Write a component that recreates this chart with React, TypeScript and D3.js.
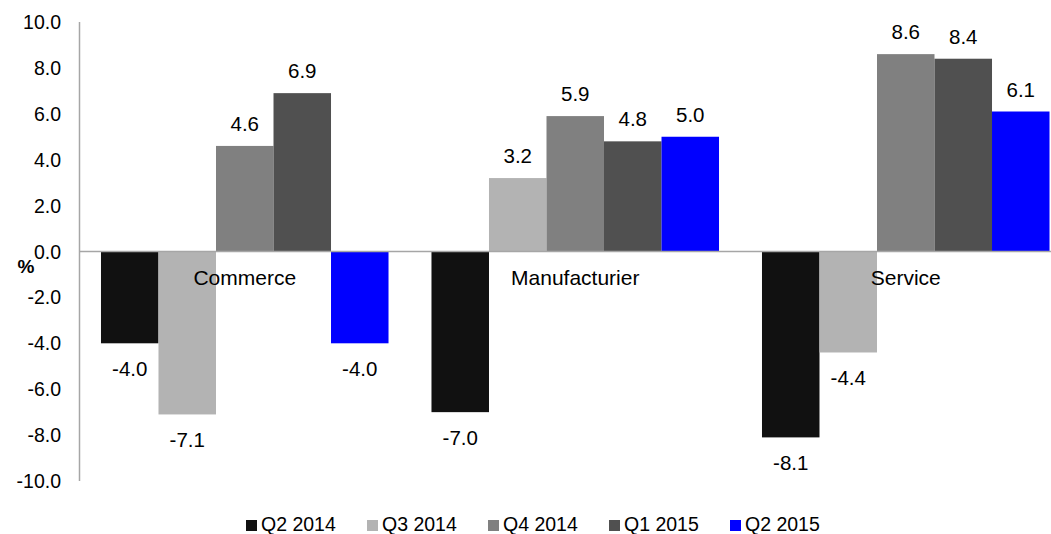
import React from 'react';
import * as d3 from 'd3';

const WIDTH = 1051;
const HEIGHT = 534;

const FONT = 'Arial, "Liberation Sans", sans-serif';

// chart data
const categories = ['Commerce', 'Manufacturier', 'Service'];
const seriesNames = ['Q2 2014', 'Q3 2014', 'Q4 2014', 'Q1 2015', 'Q2 2015'];
const seriesColors = ['#111111', '#b3b3b3', '#808080', '#505050', '#0000ff'];

const q2_2014 = [-4.0, -7.0, -8.1];
const q3_2014 = [-7.1, 3.2, -4.4];
const q4_2014 = [4.6, 5.9, 8.6];
const q1_2015 = [6.9, 4.8, 8.4];
const q2_2015 = [-4.0, 5.0, 6.1];

const seriesValues = [q2_2014, q3_2014, q4_2014, q1_2015, q2_2015];

const yTicks = [10, 8, 6, 4, 2, 0, -2, -4, -6, -8, -10];

const PLOT = { left: 79.5, right: 1071, top: 22, bottom: 481 };

// plain hyphen for negatives, like the source chart
const fmt = (v: number) => v.toFixed(1);

export default function App() {
  const y = d3.scaleLinear()
    .domain([-10, 10])
    .range([PLOT.bottom, PLOT.top]);

  const x0 = d3.scaleBand()
    .domain(categories)
    .range([PLOT.left, PLOT.right]);

  const band = x0.bandwidth();
  const gap = band * 0.065;

  const x1 = d3.scaleBand()
    .domain(seriesNames)
    .range([gap, band - gap]);

  const zero = y(0);

  const legendX = d3.scaleBand()
    .domain(seriesNames)
    .range([246, 246 + 121 * seriesNames.length]);

  return (
    <svg
      width={WIDTH}
      height={HEIGHT}
      viewBox={`0 0 ${WIDTH} ${HEIGHT}`}
      style={{ position: 'absolute', left: 0, top: 0, background: '#fff' }}
      fontFamily={FONT}
    >
      {/* bars */}
      {categories.map((cat, ci) => (
        <g key={cat} transform={`translate(${x0(cat)},0)`}>
          {seriesNames.map((s, si) => {
            const v = seriesValues[si][ci];
            return (
              <rect
                key={s}
                x={x1(s)}
                y={Math.min(y(v), zero)}
                width={x1.bandwidth()}
                height={Math.abs(y(v) - zero)}
                fill={seriesColors[si]}
              />
            );
          })}
        </g>
      ))}

      {/* axes */}
      <line x1={PLOT.left} x2={WIDTH} y1={zero} y2={zero} stroke="#a6a6a6" strokeWidth={1.5} />
      <line x1={PLOT.left} x2={PLOT.left} y1={PLOT.top} y2={PLOT.bottom} stroke="#a6a6a6" strokeWidth={1.5} />

      {yTicks.map(t => (
        <text
          key={t}
          x={61}
          y={y(t)}
          textAnchor="end"
          dominantBaseline="central"
          fontSize={19.5}
          fill="#000"
        >
          {fmt(t)}
        </text>
      ))}

      <text x={26} y={273} textAnchor="middle" fontSize={19} fontWeight="bold" fill="#000">%</text>

      {/* category labels */}
      {categories.map(cat => (
        <text
          key={cat}
          x={(x0(cat) as number) + band / 2}
          y={285}
          textAnchor="middle"
          fontSize={21}
          fill="#000"
        >
          {cat}
        </text>
      ))}

      {/* value labels */}
      {categories.map((cat, ci) => seriesNames.map((s, si) => {
        const v = seriesValues[si][ci];
        const cx = (x0(cat) as number) + (x1(s) as number) + x1.bandwidth() / 2;
        return (
          <text
            key={`${cat}-${s}`}
            x={cx}
            y={v >= 0 ? y(v) - 15 : y(v) + 33}
            textAnchor="middle"
            fontSize={20.5}
            fill="#000"
          >
            {fmt(v)}
          </text>
        );
      }))}

      {/* legend */}
      {seriesNames.map((s, si) => {
        const lx = legendX(s) as number;
        return (
          <g key={s}>
            <rect x={lx} y={520} width={11} height={11} fill={seriesColors[si]} />
            <text x={lx + 15} y={530.5} fontSize={19.5} fill="#000">{s}</text>
          </g>
        );
      })}
    </svg>
  );
}
